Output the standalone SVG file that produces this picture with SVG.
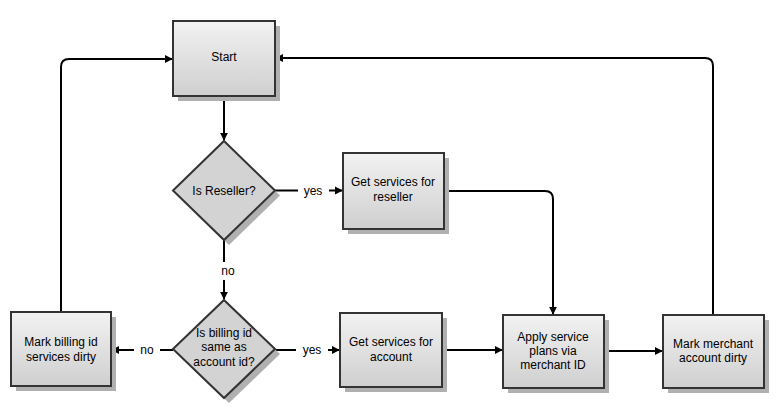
<svg xmlns="http://www.w3.org/2000/svg" width="784" height="419" viewBox="0 0 784 419">
<style>
.box{fill:url(#g);stroke:#333;stroke-width:2}
.dia{fill:#d3d3d3;stroke:#333;stroke-width:2}
.sh{fill:#b0b0b0}
text{font-family:"Liberation Sans",Arial,sans-serif;font-size:12px;fill:#000;text-anchor:middle}
.c{fill:none;stroke:#000;stroke-width:2}
</style>
<defs>
<linearGradient id="g" x1="0" y1="0" x2="0" y2="1">
<stop offset="0" stop-color="#f2f2f2"/>
<stop offset="1" stop-color="#cfcfcf"/>
</linearGradient>
<marker id="a" viewBox="0 0 10 10" refX="9" refY="5" markerWidth="8" markerHeight="9" orient="auto" markerUnits="userSpaceOnUse">
<path d="M0,0 L10,5 L0,10 Z" fill="#000"/>
</marker>
</defs>
<rect width="784" height="419" fill="#fff"/>
<g id="connectors">
<path class="c" d="M224,96 V140" marker-end="url(#a)"/>
<path class="c" d="M275,190.5 H298"/>
<path class="c" d="M329,190.5 H342" marker-end="url(#a)"/>
<path class="c" d="M444,191 H545 Q553,191 553,199 V314" marker-end="url(#a)"/>
<path class="c" d="M224,240 V262"/>
<path class="c" d="M224,280 V299" marker-end="url(#a)"/>
<path class="c" d="M173,350 H160"/>
<path class="c" d="M134,350 H112" marker-end="url(#a)"/>
<path class="c" d="M275,350 H296"/>
<path class="c" d="M328,350 H339" marker-end="url(#a)"/>
<path class="c" d="M442,350 H502" marker-end="url(#a)"/>
<path class="c" d="M604,351 H662" marker-end="url(#a)"/>
<path class="c" d="M61,312 V67 Q61,59 69,59 H172" marker-end="url(#a)"/>
<path class="c" d="M713,315 V66 Q713,58 705,58 H276" marker-end="url(#a)"/>
<text x="313" y="195">yes</text>
<text x="228" y="275">no</text>
<text x="147" y="354">no</text>
<text x="312" y="354">yes</text>
</g>
<g id="start">
<rect class="sh" x="178" y="26" width="102" height="75"/>
<rect class="box" x="173" y="21" width="102" height="75"/>
<text x="224" y="61">Start</text>
</g>
<g id="is-reseller">
<path class="sh" d="M229,146 L280,195.5 L229,245 L178,195.5 Z"/>
<path class="dia" d="M224,141 L275,190.5 L224,240 L173,190.5 Z"/>
<text x="224" y="195">Is Reseller?</text>
</g>
<g id="get-reseller">
<rect class="sh" x="348" y="158" width="101" height="76"/>
<rect class="box" x="343" y="153" width="101" height="76"/>
<text x="393" y="186">Get services for</text>
<text x="393" y="201">reseller</text>
</g>
<g id="is-billing">
<path class="sh" d="M229,305 L280,354 L229,403 L178,354 Z"/>
<path class="dia" d="M224,300 L275,349 L224,398 L173,349 Z"/>
<text x="224" y="337">Is billing id</text>
<text x="224" y="351">same as</text>
<text x="224" y="366">account id?</text>
</g>
<g id="mark-billing">
<rect class="sh" x="16" y="317" width="100" height="74"/>
<rect class="box" x="11" y="312" width="100" height="74"/>
<text x="61" y="346">Mark billing id</text>
<text x="61" y="361">services dirty</text>
</g>
<g id="get-account">
<rect class="sh" x="345" y="318" width="102" height="74"/>
<rect class="box" x="340" y="313" width="102" height="74"/>
<text x="391" y="346">Get services for</text>
<text x="391" y="361">account</text>
</g>
<g id="apply">
<rect class="sh" x="508" y="320" width="101" height="73"/>
<rect class="box" x="503" y="315" width="101" height="73"/>
<text x="553" y="341">Apply service</text>
<text x="553" y="355">plans via</text>
<text x="553" y="369">merchant ID</text>
</g>
<g id="mark-merchant">
<rect class="sh" x="668" y="320" width="101" height="73"/>
<rect class="box" x="663" y="315" width="101" height="73"/>
<text x="713" y="348">Mark merchant</text>
<text x="713" y="362">account dirty</text>
</g>
</svg>
